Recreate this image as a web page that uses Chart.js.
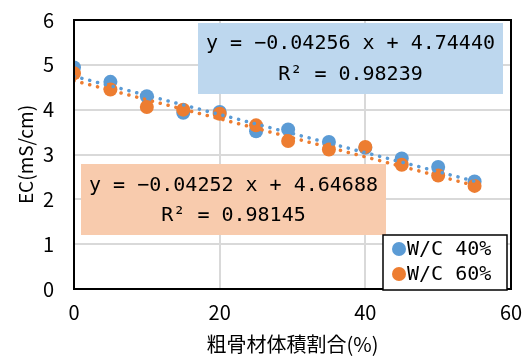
<!DOCTYPE html>
<html>
<head>
<meta charset="utf-8">
<style>
  html, body { margin: 0; padding: 0; background: #fff; }
</style>
</head>
<body>
<canvas id="ec" width="522" height="356"></canvas>
<script src="https://cdn.jsdelivr.net/npm/chart.js"></script>
<script>
// 粗骨材体積割合 (%) と EC (mS/cm)
const volRatio = [0, 5, 10, 15, 20, 25, 29.4, 35, 40, 45, 50, 55];
const ecWC40 = [4.94, 4.62, 4.30, 3.93, 3.95, 3.52, 3.56, 3.28, 3.15, 2.91, 2.72, 2.40];
const ecWC60 = [4.81, 4.45, 4.06, 4.00, 3.91, 3.65, 3.30, 3.11, 3.17, 2.77, 2.53, 2.30];
// trend lines (from the equations shown on the chart)
const trendX = [0, 55];
const trendWC40 = [4.7444, 2.4036];
const trendWC60 = [4.64688, 2.30828];
const eqWC40 = ['y = \u22120.04256 x + 4.74440', 'R\u00b2 = 0.98239'];
const eqWC60 = ['y = \u22120.04252 x + 4.64688', 'R\u00b2 = 0.98145'];
const seriesNames = ['W/C 40%', 'W/C 60%'];
const xTicks = [0, 20, 40, 60];
const yTicks = [0, 1, 2, 3, 4, 5, 6];

const BLUE = '#5b9bd5';
const ORANGE = '#ed7d31';
const monoFont = '"DejaVu Sans Mono", monospace';
const jpFont = '"Noto Sans CJK JP", sans-serif';

function pts(xs, ys) {
  return xs.map((x, i) => ({ x: x, y: ys[i] }));
}

// frame, equation boxes and legend
const extras = {
  id: 'extras',
  afterDatasetsDraw(chart) {
    const ctx = chart.ctx;
    const a = chart.chartArea;
    ctx.save();
    ctx.strokeStyle = '#000';
    ctx.lineWidth = 2;
    ctx.strokeRect(a.left, a.top, a.right - a.left, a.bottom - a.top);

    function box(x1, y1, x2, y2, fill, lines, ys) {
      ctx.fillStyle = fill;
      ctx.fillRect(x1, y1, x2 - x1, y2 - y1);
      ctx.fillStyle = '#000';
      ctx.font = '20px ' + monoFont;
      ctx.textAlign = 'center';
      ctx.textBaseline = 'middle';
      lines.forEach((t, i) => ctx.fillText(t, (x1 + x2) / 2, ys[i]));
    }
    box(198, 23, 503, 94, '#bdd7ee', eqWC40, [44, 75]);
    box(81, 164, 386, 235, '#f8cbad', eqWC60, [186, 216]);

    // legend
    ctx.fillStyle = '#fff';
    ctx.fillRect(383, 235, 124, 55);
    ctx.strokeStyle = '#000';
    ctx.lineWidth = 1.5;
    ctx.strokeRect(383, 235, 124, 55);
    [BLUE, ORANGE].forEach((c, i) => {
      const cy = 249 + i * 25;
      ctx.fillStyle = c;
      ctx.beginPath();
      ctx.arc(399, cy, 7, 0, Math.PI * 2);
      ctx.fill();
      ctx.fillStyle = '#000';
      ctx.font = '20px ' + monoFont;
      ctx.textAlign = 'left';
      ctx.textBaseline = 'middle';
      ctx.fillText(seriesNames[i], 407, cy + 1);
    });
    ctx.restore();
  }
};

new Chart(document.getElementById('ec'), {
  type: 'scatter',
  data: {
    datasets: [
      { label: 'trend40', type: 'line', data: pts(trendX, trendWC40), borderColor: BLUE, borderWidth: 3.5,
        borderDash: [0.1, 8], borderCapStyle: 'round', pointRadius: 0, fill: false, order: 2 },
      { label: 'trend60', type: 'line', data: pts(trendX, trendWC60), borderColor: ORANGE, borderWidth: 3.5,
        borderDash: [0.1, 8], borderCapStyle: 'round', pointRadius: 0, fill: false, order: 1 },
      { label: seriesNames[0], data: pts(volRatio, ecWC40), backgroundColor: BLUE, borderColor: BLUE,
        pointRadius: 7, borderWidth: 0, order: 4 },
      { label: seriesNames[1], data: pts(volRatio, ecWC60), backgroundColor: ORANGE, borderColor: ORANGE,
        pointRadius: 7, borderWidth: 0, order: 3 }
    ]
  },
  options: {
    responsive: false,
    animation: false,
    devicePixelRatio: 1,
    layout: { padding: { top: 20, right: 11, left: 0, bottom: 0 } },
    plugins: { legend: { display: false }, tooltip: { enabled: false } },
    scales: {
      x: {
        type: 'linear', min: 0, max: 60,
        afterBuildTicks: s => { s.ticks = xTicks.map(v => ({ value: v })); },
        ticks: { color: '#000', font: { family: jpFont, size: 20 }, padding: 11, maxRotation: 0 },
        grid: { color: '#d9d9d9', lineWidth: 2, drawTicks: false },
        border: { display: false },
        title: { display: true, text: '粗骨材体積割合(%)', color: '#000', font: { family: jpFont, size: 20 }, padding: 0 },
        afterFit: s => { s.height = 67; s.paddingLeft = 0; s.paddingRight = 0; }
      },
      y: {
        type: 'linear', min: 0, max: 6,
        afterBuildTicks: s => { s.ticks = yTicks.map(v => ({ value: v })); },
        ticks: { color: '#000', font: { family: jpFont, size: 20 }, padding: 20 },
        grid: { color: '#d9d9d9', lineWidth: 2, drawTicks: false },
        border: { display: false },
        title: { display: true, text: 'EC(mS/cm)', color: '#000', font: { family: jpFont, size: 19 },
          padding: { top: 14, bottom: 0 } },
        afterFit: s => { s.width = 74; s.paddingTop = 0; s.paddingBottom = 0; }
      }
    }
  },
  plugins: [extras]
});
</script>
</body>
</html>
